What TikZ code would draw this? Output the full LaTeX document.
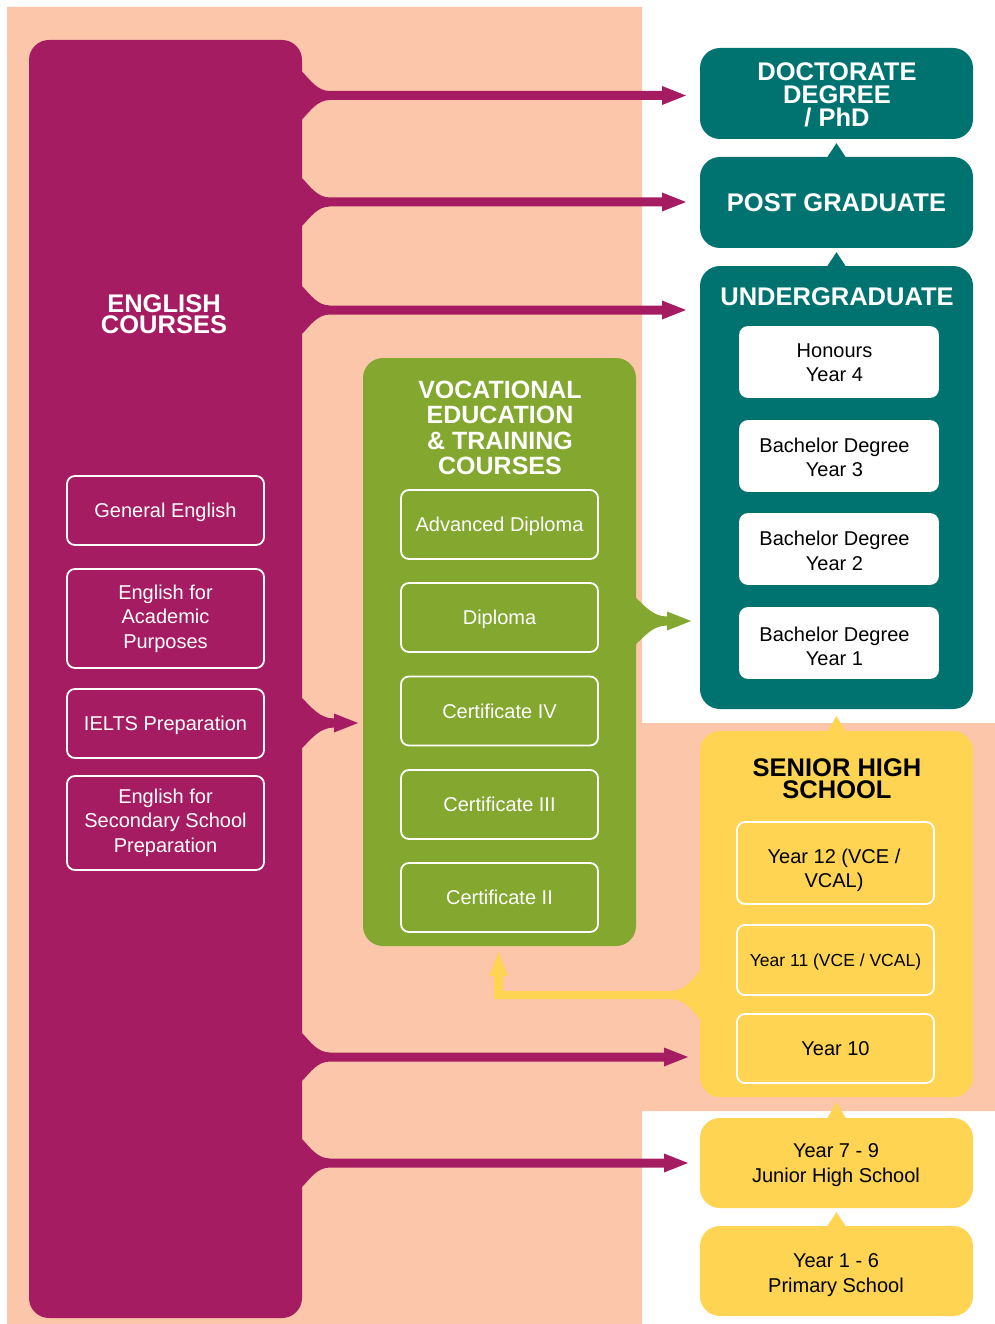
\documentclass[tikz,border=0pt]{standalone}
\usepackage{fontspec}
\setmainfont{Liberation Sans}
\definecolor{peach}{HTML}{FBC6AA}
\definecolor{magentab}{HTML}{A51C62}
\definecolor{tealb}{HTML}{007370}
\definecolor{greenb}{HTML}{83A72F}
\definecolor{yellowb}{HTML}{FED452}
\newcommand\rflare[7]{%
  \fill[#1] (#2-2,#3-#4) -- (#2,#3-#4)
    .. controls ({#2+0.3*(#5-#2)},{#3-#4+0.45*(#4-4.5)}) and ({#2+0.55*(#5-#2)},#3-4.5) .. (#5,#3-4.5)
    -- (#6,#3-4.5) -- (#6,#3-9.5) -- (#7,#3) -- (#6,#3+9.5) -- (#6,#3+4.5) -- (#5,#3+4.5)
    .. controls ({#2+0.55*(#5-#2)},#3+4.5) and ({#2+0.3*(#5-#2)},{#3+#4-0.45*(#4-4.5)}) .. (#2,#3+#4)
    -- (#2-2,#3+#4) -- cycle;}
\begin{document}
\begin{tikzpicture}[x=1pt,y=-1pt,
  bigbox/.style={rounded corners=20pt, minimum width=273pt, inner sep=0pt, draw=none, align=center},
  titletext/.style={font=\bfseries\fontsize{25.5}{22.5}\selectfont, align=center, inner sep=0pt},
  itembox/.style={rounded corners=8pt, minimum width=197pt, minimum height=69pt, draw=white, line width=1.8pt, inner sep=0pt, align=center, text depth=0pt, font=\fontsize{20}{24.5}\selectfont},
  itemtext/.style={inner sep=0pt, align=center, text depth=0pt, font=\fontsize{20}{24.5}\selectfont}
]
\useasboundingbox (0,0) rectangle (995,1324);
\fill[white] (0,0) rectangle (995,1324);
\fill[peach] (7,7) -- (642,7) -- (642,723) -- (995,723) -- (995,1111) -- (642,1111) -- (642,1324) -- (7,1324) -- cycle;

% arrows (under the boxes)
\rflare{magentab}{302}{95.5}{24}{330}{662}{686}
\rflare{magentab}{302}{202}{24}{330}{662}{686}
\rflare{magentab}{302}{310}{24}{330}{662}{686}
\rflare{magentab}{302}{1057}{24}{330}{664}{688}
\rflare{magentab}{302}{1163}{24}{330}{664}{688}
\rflare{magentab}{302}{723}{25}{334}{334}{358}
\rflare{greenb}{636}{621}{23}{667}{667}{691}
% yellow arrow from senior high to vocational
\fill[yellowb] (702,970) -- (700,970) .. controls (691,982) and (684,991) .. (669,991)
  -- (503,991) -- (503,976) -- (508,976) -- (498.5,952) -- (489,976) -- (494,976)
  -- (494,999) -- (669,999) .. controls (684,999) and (691,1008) .. (700,1020) -- (702,1020) -- cycle;

% big boxes
\node[bigbox, fill=magentab, minimum height=1278pt] (eng) at (165.5,679) {};
\node[titletext, text=white, font=\bfseries\fontsize{25.5}{21.5}\selectfont] (engt) at (164,314) {ENGLISH\\COURSES};

\node[bigbox, fill=greenb, minimum height=588pt] (voc) at (499.5,652) {};
\node[titletext, text=white, font=\bfseries\fontsize{25}{25.5}\selectfont] (voct) at (500,428) {VOCATIONAL\\EDUCATION\\\&\ TRAINING\\COURSES};

\node[bigbox, fill=tealb, minimum height=91pt] (doc) at (836.5,93.5) {};
\node[titletext, text=white, font=\bfseries\fontsize{25.5}{23}\selectfont] (doct) at (837,95) {DOCTORATE\\DEGREE\\/ PhD};
\node[bigbox, fill=tealb, minimum height=91pt, text=white, font=\bfseries\fontsize{25.5}{22.5}\selectfont] (post) at (836.5,202.5) {POST GRADUATE};
\node[bigbox, fill=tealb, minimum height=443pt] (ug) at (836.5,487.5) {};
\node[titletext, text=white] (ugt) at (837,297) {UNDERGRADUATE};
\node[bigbox, fill=yellowb, minimum height=366pt] (shs) at (836.5,914) {};
\node[titletext, text=black] (shst) at (837,778.5) {SENIOR HIGH\\SCHOOL};
\node[bigbox, fill=yellowb, minimum height=90pt] (jhs) at (836.5,1163) {};
\node[itemtext] (jhst) at (836,1163) {Year 7 - 9\\Junior High School};
\node[bigbox, fill=yellowb, minimum height=90pt] (prim) at (836.5,1271) {};
\node[itemtext] (primt) at (836,1273) {Year 1 - 6\\Primary School};

% small connector triangles
\fill[tealb] ([xshift=-9pt]post.north) -- ([yshift=-4pt]doc.south) -- ([xshift=9pt]post.north) -- cycle;
\fill[tealb] ([xshift=-9pt]ug.north) -- ([yshift=-4pt]post.south) -- ([xshift=9pt]ug.north) -- cycle;
\fill[yellowb] ([xshift=-9pt]shs.north) -- ([yshift=-7pt]ug.south) -- ([xshift=9pt]shs.north) -- cycle;
\fill[yellowb] ([xshift=-9pt]jhs.north) -- ([yshift=-5pt]shs.south) -- ([xshift=9pt]jhs.north) -- cycle;
\fill[yellowb] ([xshift=-9pt]prim.north) -- ([yshift=-4pt]jhs.south) -- ([xshift=9pt]prim.north) -- cycle;

% English items
\node[itembox, text=white] (ge) at (165.5,510.5) {General English};
\node[itembox, minimum height=99pt] (eap) at (165.5,618.5) {};
\node[itemtext, text=white] (eapt) at (165.5,616.5) {English for\\Academic\\Purposes};
\node[itembox, text=white] (ielts) at (165.5,723.5) {IELTS Preparation};
\node[itembox, minimum height=94pt] (essp) at (165.5,823) {};
\node[itemtext, text=white] (esspt) at (165.5,820.5) {English for\\Secondary School\\Preparation};

% vocational items
\node[itembox, text=white] (ad) at (499.5,524.5) {Advanced Diploma};
\node[itembox, text=white] (dip) at (499.5,617.5) {Diploma};
\node[itembox, text=white] (c4) at (499.5,711) {Certificate IV};
\node[itembox, text=white] (c3) at (499.5,804.5) {Certificate III};
\node[itembox, text=white] (c2) at (499.5,897.5) {Certificate II};

% undergraduate items
\node[itembox, fill=white, minimum width=198pt, minimum height=70pt] (hon) at (839,362) {};
\node[itemtext] (hont) at (834.5,362.5) {Honours\\Year 4};
\node[itembox, fill=white, minimum width=198pt, minimum height=70pt] (b3) at (839,456) {};
\node[itemtext] (b3t) at (834.5,457.5) {Bachelor Degree\\Year 3};
\node[itembox, fill=white, minimum width=198pt, minimum height=70pt] (b2) at (839,549) {};
\node[itemtext] (b2t) at (834.5,550.5) {Bachelor Degree\\Year 2};
\node[itembox, fill=white, minimum width=198pt, minimum height=70pt] (b1) at (839,643) {};
\node[itemtext] (b1t) at (834.5,646) {Bachelor Degree\\Year 1};

% senior high items
\node[itembox, minimum height=82pt] (y12) at (835.5,863) {};
\node[itemtext] (y12t) at (834,868) {Year 12 (VCE /\\VCAL)};
\node[itembox, minimum height=70pt, font=\fontsize{17.5}{21}\selectfont] (y11) at (835.5,960) {Year 11 (VCE / VCAL)};
\node[itembox] (y10) at (835.5,1048.5) {Year 10};
\end{tikzpicture}
\end{document}
